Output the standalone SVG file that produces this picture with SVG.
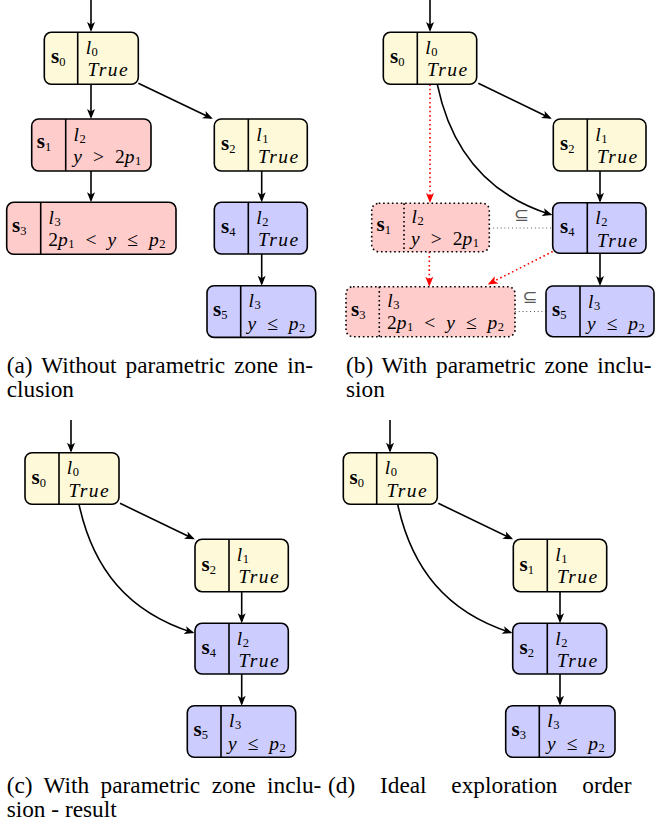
<svg xmlns="http://www.w3.org/2000/svg" width="655" height="828" viewBox="0 0 655 828">
<style>
.box{stroke:#000;stroke-width:1.6}
.yl{fill:#FDF9D9}
.rd{fill:#FFCCCC}
.bl{fill:#CCCCFF}
.dot{stroke-dasharray:1.6 2.8}
.div{stroke:#000;stroke-width:1.6}
.st{font-family:"Liberation Serif","DejaVu Serif",serif;font-weight:bold;font-size:21px;fill:#000}
.m{font-family:"Liberation Serif","DejaVu Serif",serif;font-size:19.5px;fill:#000}
.it{font-style:italic}
.tr{font-style:italic;letter-spacing:1.5px}
.sub{font-size:12.5px;font-weight:normal;font-style:normal;letter-spacing:0}
.cap{font-family:"Liberation Serif","DejaVu Serif",serif;font-size:23.3px;fill:#000}
.ar{fill:none;stroke:#000;stroke-width:1.6}
.ard{fill:none;stroke:#FF0000;stroke-width:1.6;stroke-dasharray:1.6 2.8}
.thin{fill:none;stroke:#000;stroke-width:0.8;stroke-dasharray:0.8 3}
.sq{font-family:"DejaVu Sans",sans-serif;font-size:18px;fill:#555}
</style>
<defs>
<marker id="ah" viewBox="-9 -5 12 10" refX="0" refY="0" markerWidth="12" markerHeight="10" markerUnits="userSpaceOnUse" orient="auto">
<path d="M2,0 L-8,-4 L-5.5,0 L-8,4 Z" fill="#000"/>
</marker>
<marker id="ahr" viewBox="-9 -5 12 10" refX="0" refY="0" markerWidth="12" markerHeight="10" markerUnits="userSpaceOnUse" orient="auto">
<path d="M2,0 L-8,-4 L-5.5,0 L-8,4 Z" fill="#FF0000"/>
</marker>
</defs>

<g id="connectors">
<!-- (a) -->
<line class="ar" x1="91" y1="0" x2="91" y2="30" marker-end="url(#ah)"/>
<line class="ar" x1="91" y1="84.3" x2="91" y2="117" marker-end="url(#ah)"/>
<line class="ar" x1="138.3" y1="83.3" x2="211" y2="118" marker-end="url(#ah)"/>
<line class="ar" x1="91" y1="171" x2="91" y2="200.3" marker-end="url(#ah)"/>
<line class="ar" x1="261.7" y1="171" x2="261.7" y2="200.3" marker-end="url(#ah)"/>
<line class="ar" x1="261.7" y1="254" x2="261.7" y2="283.7" marker-end="url(#ah)"/>
<!-- (b) -->
<line class="ar" x1="430" y1="0" x2="430" y2="30" marker-end="url(#ah)"/>
<line class="ar" x1="478.3" y1="83.3" x2="550" y2="118" marker-end="url(#ah)"/>
<path class="ar" d="M437.3,84.3 C451,150 488,195 550.5,214.5" marker-end="url(#ah)"/>
<line class="ar" x1="600" y1="171" x2="600" y2="200.7" marker-end="url(#ah)"/>
<line class="ar" x1="600" y1="253.3" x2="600" y2="284" marker-end="url(#ah)"/>
<line class="ard" x1="430" y1="84.3" x2="430" y2="201" marker-end="url(#ahr)"/>
<line class="ard" x1="429.3" y1="251.7" x2="429.3" y2="284.7" marker-end="url(#ahr)"/>
<line class="ard" x1="552.7" y1="251.5" x2="489.5" y2="283.5" marker-end="url(#ahr)"/>
<line class="thin" x1="489.3" y1="228" x2="552.7" y2="228"/>
<line class="thin" x1="515" y1="311.5" x2="546" y2="311.5"/>
<text class="sq" x="521.5" y="220.5" text-anchor="middle">⊆</text>
<text class="sq" x="530" y="303" text-anchor="middle">⊆</text>
<!-- (c) -->
<line class="ar" x1="71" y1="420" x2="71" y2="450.7" marker-end="url(#ah)"/>
<line class="ar" x1="120" y1="503.3" x2="193" y2="538.5" marker-end="url(#ah)"/>
<path class="ar" d="M79,504.3 C93,569 128,612 192.5,632.5" marker-end="url(#ah)"/>
<line class="ar" x1="241.7" y1="591.7" x2="241.7" y2="621.3" marker-end="url(#ah)"/>
<line class="ar" x1="241.7" y1="674" x2="241.7" y2="703.7" marker-end="url(#ah)"/>
<!-- (d) -->
<line class="ar" x1="390" y1="420" x2="390" y2="450.7" marker-end="url(#ah)"/>
<line class="ar" x1="438.3" y1="503.3" x2="511.3" y2="538.5" marker-end="url(#ah)"/>
<path class="ar" d="M397.7,504.3 C411.7,569 446.7,612 510.5,632.5" marker-end="url(#ah)"/>
<line class="ar" x1="560" y1="591.7" x2="560" y2="621.3" marker-end="url(#ah)"/>
<line class="ar" x1="560" y1="674" x2="560" y2="703.7" marker-end="url(#ah)"/>
</g>

<!-- Panel (a) -->
<g id="a_s0">
<rect class="box yl" x="44.3" y="32.3" width="94" height="52" rx="7"/>
<line class="div" x1="77.7" y1="32.3" x2="77.7" y2="84.3"/>
<text class="st" x="51" y="63.3">s<tspan class="sub" dy="3">0</tspan></text>
<text class="m"><tspan class="it" x="85.7" y="53.8">l</tspan><tspan class="sub" dx="0.5" y="55.8">0</tspan><tspan class="tr" x="87.5" y="76.3">True</tspan></text>
</g>
<g id="a_s1">
<rect class="box rd" x="31.7" y="119" width="119.3" height="52" rx="7"/>
<line class="div" x1="65.7" y1="119" x2="65.7" y2="171"/>
<text class="st" x="36.7" y="148.3">s<tspan class="sub" dy="3">1</tspan></text>
<text class="m"><tspan class="it" x="73.5" y="140.5">l</tspan><tspan class="sub" dx="0.5" y="142.5">2</tspan><tspan class="it" x="73.3" y="163">y</tspan><tspan dx="11">&gt;</tspan><tspan dx="11">2</tspan><tspan class="it">p</tspan><tspan class="sub" dx="0.5" y="165">1</tspan></text>
</g>
<g id="a_s2">
<rect class="box yl" x="214.3" y="119" width="93" height="52" rx="7"/>
<line class="div" x1="248.3" y1="119" x2="248.3" y2="171"/>
<text class="st" x="221" y="150">s<tspan class="sub" dy="3">2</tspan></text>
<text class="m"><tspan class="it" x="256.3" y="140.5">l</tspan><tspan class="sub" dx="0.5" y="142.5">1</tspan><tspan class="tr" x="258" y="163">True</tspan></text>
</g>
<g id="a_s3">
<rect class="box rd" x="6.7" y="202.3" width="169.3" height="52" rx="7"/>
<line class="div" x1="40.7" y1="202.3" x2="40.7" y2="254.3"/>
<text class="st" x="12" y="232">s<tspan class="sub" dy="3">3</tspan></text>
<text class="m"><tspan class="it" x="48.5" y="223.8">l</tspan><tspan class="sub" dx="0.5" y="225.8">3</tspan><tspan x="48.3" y="246.3">2</tspan><tspan class="it">p</tspan><tspan class="sub" dx="0.5" y="248.3">1</tspan><tspan y="246.3" dx="11">&lt;</tspan><tspan class="it" dx="11">y</tspan><tspan dx="11">≤</tspan><tspan class="it" dx="11">p</tspan><tspan class="sub" dx="0.5" y="248.3">2</tspan></text>
</g>
<g id="a_s4">
<rect class="box bl" x="214.3" y="202.3" width="93" height="51.7" rx="7"/>
<line class="div" x1="248.3" y1="202.3" x2="248.3" y2="254"/>
<text class="st" x="221" y="233">s<tspan class="sub" dy="3">4</tspan></text>
<text class="m"><tspan class="it" x="256.3" y="223.8">l</tspan><tspan class="sub" dx="0.5" y="225.8">2</tspan><tspan class="tr" x="258" y="246.3">True</tspan></text>
</g>
<g id="a_s5">
<rect class="box bl" x="207" y="285.7" width="108.7" height="51.7" rx="7"/>
<line class="div" x1="240.7" y1="285.7" x2="240.7" y2="337.4"/>
<text class="st" x="213" y="316">s<tspan class="sub" dy="3">5</tspan></text>
<text class="m"><tspan class="it" x="248.5" y="307.2">l</tspan><tspan class="sub" dx="0.5" y="309.2">3</tspan><tspan class="it" x="247.5" y="329.7">y</tspan><tspan dx="11">≤</tspan><tspan class="it" dx="11">p</tspan><tspan class="sub" dx="0.5" y="331.7">2</tspan></text>
</g>

<!-- Panel (b) -->
<g id="b_s0">
<rect class="box yl" x="383.3" y="32.3" width="93.4" height="52" rx="7"/>
<line class="div" x1="417.3" y1="32.3" x2="417.3" y2="84.3"/>
<text class="st" x="390" y="63.3">s<tspan class="sub" dy="3">0</tspan></text>
<text class="m"><tspan class="it" x="425.3" y="53.8">l</tspan><tspan class="sub" dx="0.5" y="55.8">0</tspan><tspan class="tr" x="427" y="76.3">True</tspan></text>
</g>
<g id="b_s2">
<rect class="box yl" x="553.3" y="119" width="92.7" height="52" rx="7"/>
<line class="div" x1="587.3" y1="119" x2="587.3" y2="171"/>
<text class="st" x="560" y="150">s<tspan class="sub" dy="3">2</tspan></text>
<text class="m"><tspan class="it" x="595.3" y="140.5">l</tspan><tspan class="sub" dx="0.5" y="142.5">1</tspan><tspan class="tr" x="597" y="163">True</tspan></text>
</g>
<g id="b_s1">
<rect class="box rd dot" x="371.7" y="203.3" width="117.6" height="48.4" rx="7"/>
<line class="div dot" x1="404" y1="203.3" x2="404" y2="251.7"/>
<text class="st" x="376.5" y="231">s<tspan class="sub" dy="3">1</tspan></text>
<text class="m"><tspan class="it" x="411.5" y="222.8">l</tspan><tspan class="sub" dx="0.5" y="224.8">2</tspan><tspan class="it" x="411" y="245.3">y</tspan><tspan dx="11">&gt;</tspan><tspan dx="11">2</tspan><tspan class="it">p</tspan><tspan class="sub" dx="0.5" y="247.3">1</tspan></text>
</g>
<g id="b_s4">
<rect class="box bl" x="552.7" y="202.7" width="93.3" height="50.6" rx="7"/>
<line class="div" x1="587.3" y1="202.7" x2="587.3" y2="253.3"/>
<text class="st" x="560" y="233">s<tspan class="sub" dy="3">4</tspan></text>
<text class="m"><tspan class="it" x="595.3" y="224.2">l</tspan><tspan class="sub" dx="0.5" y="226.2">2</tspan><tspan class="tr" x="597" y="246.7">True</tspan></text>
</g>
<g id="b_s3">
<rect class="box rd dot" x="346" y="286.7" width="169" height="50" rx="7"/>
<line class="div dot" x1="379.3" y1="286.7" x2="379.3" y2="336.7"/>
<text class="st" x="351" y="316">s<tspan class="sub" dy="3">3</tspan></text>
<text class="m"><tspan class="it" x="387.3" y="306.5">l</tspan><tspan class="sub" dx="0.5" y="308.5">3</tspan><tspan x="387" y="329">2</tspan><tspan class="it">p</tspan><tspan class="sub" dx="0.5" y="331">1</tspan><tspan y="329" dx="11">&lt;</tspan><tspan class="it" dx="11">y</tspan><tspan dx="11">≤</tspan><tspan class="it" dx="11">p</tspan><tspan class="sub" dx="0.5" y="331">2</tspan></text>
</g>
<g id="b_s5">
<rect class="box bl" x="546" y="286" width="108" height="50.7" rx="7"/>
<line class="div" x1="580" y1="286" x2="580" y2="336.7"/>
<text class="st" x="552" y="316">s<tspan class="sub" dy="3">5</tspan></text>
<text class="m"><tspan class="it" x="588" y="307.5">l</tspan><tspan class="sub" dx="0.5" y="309.5">3</tspan><tspan class="it" x="587" y="330">y</tspan><tspan dx="11">≤</tspan><tspan class="it" dx="11">p</tspan><tspan class="sub" dx="0.5" y="332">2</tspan></text>
</g>

<!-- Panel (c) -->
<g id="c_s0">
<rect class="box yl" x="25" y="452.7" width="94" height="51.6" rx="7"/>
<line class="div" x1="59" y1="452.7" x2="59" y2="504.3"/>
<text class="st" x="31.5" y="483.5">s<tspan class="sub" dy="3">0</tspan></text>
<text class="m"><tspan class="it" x="66.8" y="474.2">l</tspan><tspan class="sub" dx="0.5" y="476.2">0</tspan><tspan class="tr" x="68.5" y="496.7">True</tspan></text>
</g>
<g id="c_s2">
<rect class="box yl" x="195" y="539.3" width="93.3" height="52.4" rx="7"/>
<line class="div" x1="229" y1="539.3" x2="229" y2="591.7"/>
<text class="st" x="201.5" y="570.5">s<tspan class="sub" dy="3">2</tspan></text>
<text class="m"><tspan class="it" x="236.8" y="560.8">l</tspan><tspan class="sub" dx="0.5" y="562.8">1</tspan><tspan class="tr" x="238.5" y="583.3">True</tspan></text>
</g>
<g id="c_s4">
<rect class="box bl" x="195" y="623.3" width="93.3" height="50.7" rx="7"/>
<line class="div" x1="229" y1="623.3" x2="229" y2="674"/>
<text class="st" x="201.5" y="654">s<tspan class="sub" dy="3">4</tspan></text>
<text class="m"><tspan class="it" x="236.8" y="644.8">l</tspan><tspan class="sub" dx="0.5" y="646.8">2</tspan><tspan class="tr" x="238.5" y="667.3">True</tspan></text>
</g>
<g id="c_s5">
<rect class="box bl" x="187.3" y="705.7" width="108.4" height="51.6" rx="7"/>
<line class="div" x1="221" y1="705.7" x2="221" y2="757.3"/>
<text class="st" x="193.5" y="736">s<tspan class="sub" dy="3">5</tspan></text>
<text class="m"><tspan class="it" x="229" y="727.2">l</tspan><tspan class="sub" dx="0.5" y="729.2">3</tspan><tspan class="it" x="228" y="749.7">y</tspan><tspan dx="11">≤</tspan><tspan class="it" dx="11">p</tspan><tspan class="sub" dx="0.5" y="751.7">2</tspan></text>
</g>

<!-- Panel (d) -->
<g id="d_s0">
<rect class="box yl" x="343.3" y="452.7" width="94" height="51.6" rx="7"/>
<line class="div" x1="376.7" y1="452.7" x2="376.7" y2="504.3"/>
<text class="st" x="349.5" y="483.5">s<tspan class="sub" dy="3">0</tspan></text>
<text class="m"><tspan class="it" x="384.8" y="474.2">l</tspan><tspan class="sub" dx="0.5" y="476.2">0</tspan><tspan class="tr" x="386.5" y="496.7">True</tspan></text>
</g>
<g id="d_s1">
<rect class="box yl" x="513.3" y="539.3" width="93.4" height="52.4" rx="7"/>
<line class="div" x1="547.3" y1="539.3" x2="547.3" y2="591.7"/>
<text class="st" x="519.5" y="570.5">s<tspan class="sub" dy="3">1</tspan></text>
<text class="m"><tspan class="it" x="555.3" y="560.8">l</tspan><tspan class="sub" dx="0.5" y="562.8">1</tspan><tspan class="tr" x="557" y="583.3">True</tspan></text>
</g>
<g id="d_s2">
<rect class="box bl" x="512.7" y="623.3" width="94" height="50.7" rx="7"/>
<line class="div" x1="547.3" y1="623.3" x2="547.3" y2="674"/>
<text class="st" x="519.5" y="654">s<tspan class="sub" dy="3">2</tspan></text>
<text class="m"><tspan class="it" x="555.3" y="644.8">l</tspan><tspan class="sub" dx="0.5" y="646.8">2</tspan><tspan class="tr" x="557" y="667.3">True</tspan></text>
</g>
<g id="d_s3">
<rect class="box bl" x="505.7" y="705.7" width="109.3" height="51.6" rx="7"/>
<line class="div" x1="539.3" y1="705.7" x2="539.3" y2="757.3"/>
<text class="st" x="511.5" y="736">s<tspan class="sub" dy="3">3</tspan></text>
<text class="m"><tspan class="it" x="547.3" y="727.2">l</tspan><tspan class="sub" dx="0.5" y="729.2">3</tspan><tspan class="it" x="547" y="749.7">y</tspan><tspan dx="11">≤</tspan><tspan class="it" dx="11">p</tspan><tspan class="sub" dx="0.5" y="751.7">2</tspan></text>
</g>

<!-- Captions -->
<g id="captions" class="cap">
<text x="6.7" y="373" word-spacing="3.2">(a) Without parametric zone in-</text>
<text x="6.7" y="397">clusion</text>
<text x="346" y="373" word-spacing="3">(b) With parametric zone inclu-</text>
<text x="346" y="397">sion</text>
<text x="6.7" y="793" word-spacing="5.6">(c) With parametric zone inclu-</text>
<text x="6.7" y="817">sion - result</text>
<text x="328" y="793" word-spacing="19">(d) Ideal exploration order</text>
</g>
</svg>
